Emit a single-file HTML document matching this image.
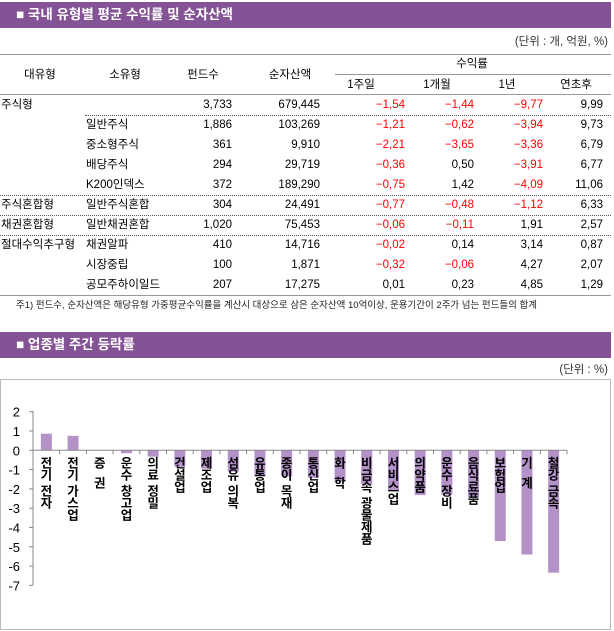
<!DOCTYPE html>
<html><head><meta charset="utf-8">
<style>
body{margin:0;width:614px;height:631px;position:relative;background:#fff;font-family:"Liberation Sans","Noto Sans CJK KR",sans-serif;font-size:11.5px;color:#000;overflow:hidden}
.bar{position:absolute;left:0;width:611px;height:26px;background:#845396;color:#fff;font-size:13.5px;font-weight:bold;line-height:26px}
.bar span{position:absolute;left:16px}
.t{position:absolute;white-space:nowrap;line-height:12px}
.r{text-align:right}
.c{text-align:center}
.red{color:#f00}
.hl{position:absolute;height:0}
</style></head><body>
<div class="bar" style="top:2px"><span>■ 국내 유형별 평균 수익률 및 순자산액</span></div>
<div class="t" style="right:6px;top:36px;color:#333">(단위 : 개, 억원, %)</div>
<div class="hl" style="left:0;width:611px;top:54px;border-top:1px solid #999"></div>
<div class="hl" style="left:335px;width:276px;top:74px;border-top:1px solid #999"></div>
<div class="hl" style="left:0;width:611px;top:94px;border-top:1px solid #999"></div>
<div class="hl" style="left:0;width:611px;top:295px;border-top:1px solid #999"></div>
<div id="tb"></div>
<div class="t" style="left:16px;top:300px;font-size:9.5px;color:#222">주1) 펀드수, 순자산액은 해당유형 가중평균수익률을 계산시 대상으로 삼은 순자산액 10억이상, 운용기간이 2주가 넘는 펀드들의 합계</div>
<div class="bar" style="top:332px"><span>■ 업종별 주간 등락률</span></div>
<div class="t" style="right:6px;top:364px;color:#333">(단위 : %)</div>
<svg style="position:absolute;left:0;top:379px" width="614" height="252" id="ch"></svg>
<script>
var tb=document.getElementById('tb'),h='';
function T(x,y,s,cls,w){h+='<div class="t '+(cls||'')+'" style="'+(w?('left:'+(x-w)+'px;width:'+w+'px;'):('left:'+x+'px;'))+'top:'+y+'px">'+s+'</div>';}
function C(cx,y,s){h+='<div class="t c" style="left:'+(cx-50)+'px;width:100px;top:'+y+'px">'+s+'</div>';}
C(40,69,'대유형');C(125,69,'소유형');C(203,69,'펀드수');C(290,69,'순자산액');C(472,58,'수익률');
C(361,79,'1주일');C(437,79,'1개월');C(507,79,'1년');C(576,79,'연초후');
var rows=[['주식형','','3,733','679,445','-1.54','-1.44','-9.77','9.99'],
['','일반주식','1,886','103,269','-1.21','-0.62','-3.94','9.73'],
['','중소형주식','361','9,910','-2.21','-3.65','-3.36','6.79'],
['','배당주식','294','29,719','-0.36','0.50','-3.91','6.77'],
['','K200인덱스','372','189,290','-0.75','1.42','-4.09','11.06'],
['주식혼합형','일반주식혼합','304','24,491','-0.77','-0.48','-1.12','6.33'],
['채권혼합형','일반채권혼합','1,020','75,453','-0.06','-0.11','1.91','2.57'],
['절대수익추구형','채권알파','410','14,716','-0.02','0.14','3.14','0.87'],
['','시장중립','100','1,871','-0.32','-0.06','4.27','2.07'],
['','공모주하이일드','207','17,275','0.01','0.23','4.85','1.29']];
var rx=[232,320,405,474,543,603];
rows.forEach(function(r,i){var y=99+i*20;
 if(r[0])T(1,y,r[0]);if(r[1])T(86,y,r[1]);
 for(var k=2;k<8;k++){var v=r[k].replace('.',',');var neg=v[0]=='-';if(neg)v='−'+v.slice(1);T(rx[k-2],y,v,'r'+(neg?' red':''),80);}
});
[[85,115],[0,195],[0,215],[0,235]].forEach(function(d){
 h+='<div class="hl" style="left:'+d[0]+'px;width:'+(611-d[0])+'px;top:'+d[1]+'px;border-top:1px dotted #555"></div>';});
tb.innerHTML=h;
var s='',svg=document.getElementById('ch');
s+='<rect x="0.5" y="0.5" width="610" height="250" fill="none" stroke="#bbb"/>';
var z=71.3,u=19.3,x0=33;
s+='<line x1="'+x0+'" y1="'+(z-2*u-1)+'" x2="'+x0+'" y2="'+(z+7*u)+'" stroke="#888"/>';
for(var v=2;v>=-7;v--){var y=z-v*u;s+='<line x1="29" x2="33" y1="'+y+'" y2="'+y+'" stroke="#888"/><text x="20" y="'+(y+5)+'" font-size="13" text-anchor="end">'+v+'</text>';}
var L=['전기 전자','전기 가스업','증  권','운수 창고업','의료 정밀','건설업','제조업','섬유 의복','유통업','종이 목재','통신업','화  학','비금속 광물제품','서비스업','의약품','운수 장비','음식료품','보험업','기  계','철강 금속'];
var V=[0.86,0.75,0,-0.15,-0.33,-0.85,-0.95,-1.1,-1.3,-1.35,-1.43,-1.62,-1.76,-2.1,-2.32,-2.3,-2.45,-4.7,-5.4,-6.34];
var w=26.7;
for(var i=0;i<20;i++){var cx=x0+w*(i+0.5);var v=V[i];
 if(v!=0){var y1=Math.min(z,z-v*u),hh=Math.abs(v*u);s+='<rect x="'+(cx-5.5)+'" y="'+y1+'" width="11" height="'+hh+'" fill="#b491c8"/>';}
}
s+='<line x1="'+x0+'" x2="567" y1="'+z+'" y2="'+z+'" stroke="#888"/>';
for(var i=0;i<=20;i++){var x=x0+w*i;s+='<line x1="'+x+'" x2="'+x+'" y1="'+z+'" y2="'+(z+4)+'" stroke="#888"/>';}
for(var i=0;i<20;i++){var cx=x0+w*(i+0.5);var y=z+13;
 for(var c of L[i]){if(c==' '){y+=4;continue;}s+='<text x="'+cx+'" y="'+(y+4)+'" font-size="12.5" font-weight="bold" text-anchor="middle">'+c+'</text>';y+=12;}}
svg.innerHTML=s;
</script>
</body></html>
